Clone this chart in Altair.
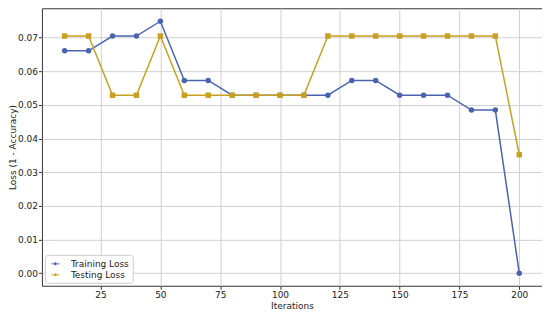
import altair as alt
import pandas as pd

iterations = [10, 20, 30, 40, 50, 60, 70, 80, 90, 100, 110, 120, 130, 140, 150, 160, 170, 180, 190, 200]
training_loss = [0.0661, 0.0661, 0.0705, 0.0705, 0.0749, 0.0573, 0.0573, 0.0529, 0.0529, 0.0529,
                 0.0529, 0.0529, 0.0573, 0.0573, 0.0529, 0.0529, 0.0529, 0.0485, 0.0485, 0.0]
testing_loss = [0.0705, 0.0705, 0.0529, 0.0529, 0.0705, 0.0529, 0.0529, 0.0529, 0.0529, 0.0529,
                0.0529, 0.0705, 0.0705, 0.0705, 0.0705, 0.0705, 0.0705, 0.0705, 0.0705, 0.0352]
series_names = ["Training Loss", "Testing Loss"]
series_colors = ["#4a63b0", "#c9a020"]
series_shapes = ["circle", "square"]
# legend glyphs: a line with a marker on it (unit-size paths)
legend_glyphs = [
    "M-0.5,-0.06H1V0.06H-0.5Z M0.5,0A0.25,0.25,0,1,1,0,0A0.25,0.25,0,1,1,0.5,0Z",
    "M-0.5,-0.06H1V0.06H-0.5Z M0.04,-0.21H0.46V0.21H0.04Z",
]
x_ticks = [25, 50, 75, 100, 125, 150, 175, 200]
y_ticks = [0.0, 0.01, 0.02, 0.03, 0.04, 0.05, 0.06, 0.07]

rows = []
for it, tr, te in zip(iterations, training_loss, testing_loss):
    rows.append({"Iterations": it, "Loss": tr, "Series": series_names[0]})
    rows.append({"Iterations": it, "Loss": te, "Series": series_names[1]})
df = pd.DataFrame(rows)

font = "DejaVu Sans"
x = alt.X("Iterations:Q", title="Iterations",
          scale=alt.Scale(domain=[0.5, 209.5], nice=False, zero=False),
          axis=alt.Axis(values=x_ticks, format="d", grid=True))
y = alt.Y("Loss:Q", title="Loss (1 - Accuracy)",
          scale=alt.Scale(domain=[-0.00375, 0.07875], nice=False, zero=False),
          axis=alt.Axis(values=y_ticks, format=".2f", grid=True, titleX=-24))
color_scale = alt.Scale(domain=series_names, range=series_colors)

base = alt.Chart(df)
lines = base.mark_line(strokeWidth=1.5).encode(
    x=x, y=y, color=alt.Color("Series:N", scale=color_scale, legend=None), detail="Series:N")
points = base.mark_point(filled=True, size=30, opacity=1).encode(
    x=x, y=y,
    color=alt.Color("Series:N", scale=color_scale, legend=None),
    shape=alt.Shape("Series:N", scale=alt.Scale(domain=series_names, range=series_shapes), legend=None))
legend_layer = base.transform_filter("false").mark_point(filled=True, opacity=1, size=144).encode(
    x=x, y=y,
    color=alt.Color("Series:N", scale=color_scale,
                    legend=alt.Legend(title=None, orient="bottom-left", symbolSize=144)),
    shape=alt.Shape("Series:N", scale=alt.Scale(domain=series_names, range=legend_glyphs),
                    legend=alt.Legend(title=None, orient="bottom-left", symbolSize=144)))

chart = alt.layer(lines, points, legend_layer).resolve_scale(
    shape="independent", color="independent"
).properties(
    width=501, height=278,
    autosize=alt.AutoSizeParams(type="none"),
    padding={"left": 34, "top": 0, "right": 0, "bottom": 25},
).configure_view(
    stroke="#333333", strokeWidth=1
).configure_axis(
    labelFont=font, titleFont=font, labelFontSize=9, titleFontSize=9,
    titleFontWeight="normal", labelColor="#222", titleColor="#222",
    gridColor="#d0d0d0", gridWidth=1, domain=False,
    tickColor="#333", tickSize=3.5, labelPadding=1,
).configure_axisX(titlePadding=2).configure_legend(
    labelFont=font, labelFontSize=9, labelColor="#222",
    fillColor="white", strokeColor="#cccccc", padding=3, cornerRadius=3,
    offset=3, symbolStrokeWidth=0, rowPadding=0, labelOffset=11,
)

chart.save("out.html", embed_options={"renderer": "svg", "actions": False})
